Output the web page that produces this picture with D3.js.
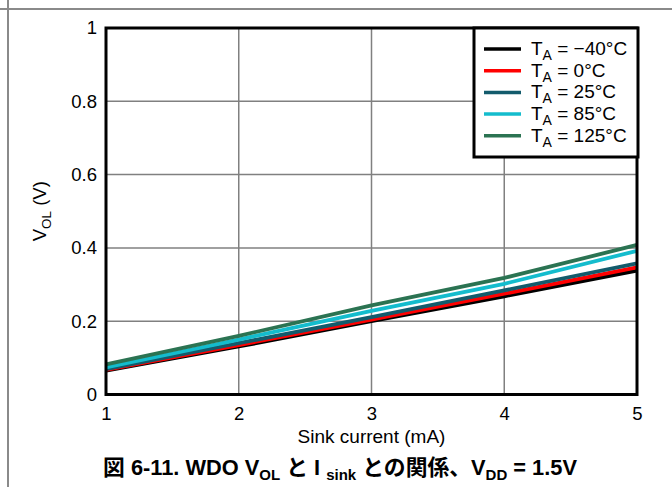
<!DOCTYPE html>
<html>
<head>
<meta charset="utf-8">
<script src="https://cdn.jsdelivr.net/npm/d3@7"></script>
<style>
  html, body { margin: 0; padding: 0; background: #fff; }
  svg { display: block; }
  text { font-family: "Liberation Sans", Arial, "Noto Sans CJK JP", sans-serif; fill: #000; }
</style>
</head>
<body>
<svg id="chart" width="672" height="487"></svg>
<script>
// Sink current (mA) sample points
const sinkCurrent = [1, 2, 3, 4, 5];

// VOL (V) per ambient temperature
const vol_m40 = [0.065, 0.131, 0.200, 0.268, 0.338];
const vol_0   = [0.067, 0.135, 0.204, 0.275, 0.347];
const vol_25  = [0.069, 0.140, 0.211, 0.284, 0.358];
const vol_85  = [0.074, 0.150, 0.228, 0.302, 0.392];
const vol_125 = [0.082, 0.160, 0.243, 0.318, 0.408];

const seriesTemps  = ["\u221240", "0", "25", "85", "125"];
const seriesValues = [vol_m40, vol_0, vol_25, vol_85, vol_125];
const seriesColors = ["#000000", "#ff0000", "#135b6c", "#14bccd", "#2b7352"];

const xTicks = [1, 2, 3, 4, 5];
const xTickLabels = ["1", "2", "3", "4", "5"];
const yTicks = [0, 0.2, 0.4, 0.6, 0.8, 1];
const yTickLabels = ["0", "0.2", "0.4", "0.6", "0.8", "1"];

const svg = d3.select("#chart");
const W = 672, H = 487;
const plot = { left: 106, top: 28, right: 637, bottom: 394.5 };
const FONT = "Liberation Sans, Arial, sans-serif";

const x = d3.scaleLinear().domain([1, 5]).range([plot.left, plot.right]);
const y = d3.scaleLinear().domain([0, 1]).range([plot.bottom, plot.top]);

// page frame rules
svg.append("line").attr("x1", 0).attr("x2", W).attr("y1", 9).attr("y2", 9)
  .attr("stroke", "#8a8a8a").attr("stroke-width", 2);
svg.append("line").attr("x1", 8).attr("x2", 8).attr("y1", 0).attr("y2", H)
  .attr("stroke", "#8a8a8a").attr("stroke-width", 2);

// grid
const grid = svg.append("g");
grid.selectAll("line.gx").data(xTicks.slice(1, -1)).join("line")
  .attr("x1", d => x(d)).attr("x2", d => x(d))
  .attr("y1", plot.top).attr("y2", plot.bottom)
  .attr("stroke", "#808080").attr("stroke-width", 1.5);
grid.selectAll("line.gy").data(yTicks.slice(1, -1)).join("line")
  .attr("y1", d => y(d)).attr("y2", d => y(d))
  .attr("x1", plot.left).attr("x2", plot.right)
  .attr("stroke", "#808080").attr("stroke-width", 1.5);

// axes (labels only; frame drawn separately)
const xAxis = d3.axisBottom(x).tickValues(xTicks)
  .tickFormat((d, i) => xTickLabels[i]).tickSize(0).tickPadding(12);
const gx = svg.append("g").attr("transform", `translate(0,${plot.bottom})`).call(xAxis);
gx.select(".domain").remove();
gx.selectAll("text").style("font-size", "18.5px").style("font-family", FONT);

const yAxis = d3.axisLeft(y).tickValues(yTicks)
  .tickFormat((d, i) => yTickLabels[i]).tickSize(0).tickPadding(9);
const gy = svg.append("g").attr("transform", `translate(${plot.left},0)`).call(yAxis);
gy.select(".domain").remove();
gy.selectAll("text").style("font-size", "18.5px").style("font-family", FONT);

// series
const line = d3.line().x((d, i) => x(sinkCurrent[i])).y(d => y(d));
svg.append("g").selectAll("path").data(seriesValues).join("path")
  .attr("d", d => line(d))
  .attr("fill", "none")
  .attr("stroke", (d, i) => seriesColors[i])
  .attr("stroke-width", 3.8);

// plot frame
svg.append("rect")
  .attr("x", plot.left).attr("y", plot.top)
  .attr("width", plot.right - plot.left).attr("height", plot.bottom - plot.top)
  .attr("fill", "none").attr("stroke", "#000").attr("stroke-width", 3);

// legend
const lg = svg.append("g");
lg.append("rect").attr("x", 474).attr("y", 28).attr("width", 164).attr("height", 129)
  .attr("fill", "#fff").attr("stroke", "#000").attr("stroke-width", 3);
const rowY = i => 49 + i * 21.7;
seriesTemps.forEach((t, i) => {
  lg.append("line").attr("x1", 484).attr("x2", 521)
    .attr("y1", rowY(i)).attr("y2", rowY(i))
    .attr("stroke", seriesColors[i]).attr("stroke-width", 3.5);
  const tx = lg.append("text").attr("x", 531).attr("y", rowY(i) + 6)
    .style("font-size", "19px").style("font-family", FONT);
  tx.append("tspan").text("T");
  tx.append("tspan").attr("dy", 5).style("font-size", "14px").text("A");
  tx.append("tspan").attr("dy", -5).text(` = ${t}\u00b0C`);
});

// axis titles
svg.append("text").attr("x", (plot.left + plot.right) / 2).attr("y", 443)
  .attr("text-anchor", "middle").style("font-size", "19px").style("font-family", FONT)
  .text("Sink current (mA)");

const yl = svg.append("text")
  .attr("transform", `translate(46,${(plot.top + plot.bottom) / 2}) rotate(-90)`)
  .attr("text-anchor", "middle").style("font-size", "18.5px").style("font-family", FONT);
yl.append("tspan").text("V");
yl.append("tspan").attr("dy", 5).style("font-size", "13.5px").text("OL");
yl.append("tspan").attr("dy", -5).text(" (V)");

// caption
const cap = svg.append("text").attr("x", 340).attr("y", 475)
  .attr("text-anchor", "middle")
  .style("font-size", "21.8px").style("font-weight", "bold")
  .style("font-family", "Liberation Sans, Arial, 'Noto Sans CJK JP', sans-serif");
cap.append("tspan").text("図 6-11. WDO V");
cap.append("tspan").attr("dy", 5).style("font-size", "15px").text("OL");
cap.append("tspan").attr("dy", -5).text(" と I ");
cap.append("tspan").attr("dy", 5).style("font-size", "15px").text("sink");
cap.append("tspan").attr("dy", -5).text(" との関係、V");
cap.append("tspan").attr("dy", 5).style("font-size", "15px").text("DD");
cap.append("tspan").attr("dy", -5).text(" = 1.5V");
</script>
</body>
</html>
